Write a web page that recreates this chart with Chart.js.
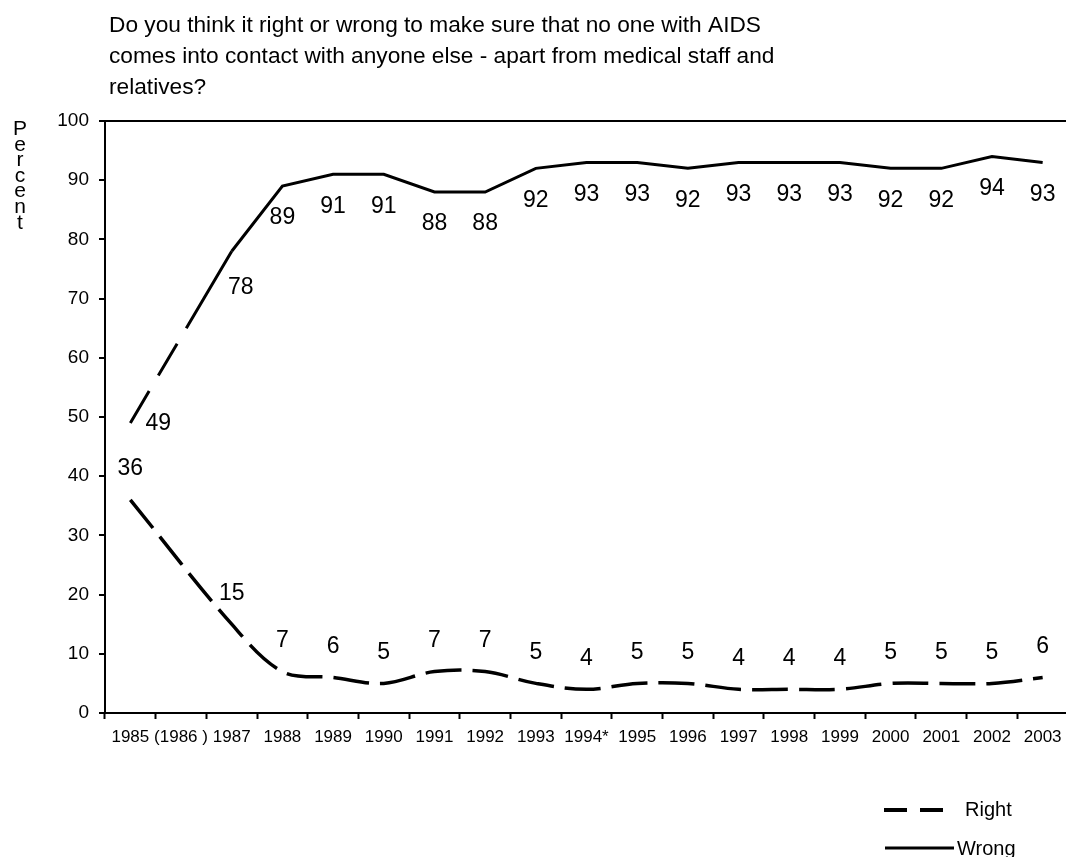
<!DOCTYPE html>
<html>
<head>
<meta charset="utf-8">
<script src="https://cdn.jsdelivr.net/npm/chart.js@4/dist/chart.umd.min.js"></script>
<style>
  html, body { margin: 0; padding: 0; background: #fff; overflow: hidden; }
  #wrap { position: relative; width: 1075px; height: 857px; }
</style>
</head>
<body>
<div id="wrap"><canvas id="c"></canvas></div>
<script>
// Survey years (1986 had no survey) and the share answering each way, in percent
const years = ['1985', '(1986 )', '1987', '1988', '1989', '1990', '1991', '1992', '1993',
  '1994*', '1995', '1996', '1997', '1998', '1999', '2000', '2001', '2002', '2003'];
const rightPct = [36, null, 15, 7, 6, 5, 7, 7, 5, 4, 5, 5, 4, 4, 4, 5, 5, 5, 6];
const wrongPct = [49, null, 78, 89, 91, 91, 88, 88, 92, 93, 93, 92, 93, 93, 93, 92, 92, 94, 93];
const seriesNames = ['Right', 'Wrong'];
const yTicks = [0, 10, 20, 30, 40, 50, 60, 70, 80, 90, 100];
const questionLines = [
  'Do you think it right or wrong to make sure that no one with AIDS',
  'comes into contact with anyone else - apart from medical staff and',
  'relatives?'
];
const yAxisTitle = 'Percent';

const FONT = '"Liberation Sans", Arial, Helvetica, sans-serif';

// Question text above the plot
const questionTitle = {
  id: 'questionTitle',
  afterDraw(chart) {
    const ctx = chart.ctx;
    ctx.save();
    ctx.fillStyle = '#000';
    ctx.font = '22.7px ' + FONT;
    ctx.textAlign = 'left';
    ctx.textBaseline = 'alphabetic';
    questionLines.forEach((line, i) => {
      ctx.fillText(line, chart.chartArea.left + 4, 32 + i * 30.8);
    });
    ctx.restore();
  }
};

// Stacked-letter title for the value axis
const stackedAxisTitle = {
  id: 'stackedAxisTitle',
  afterDraw(chart) {
    const ctx = chart.ctx;
    ctx.save();
    ctx.fillStyle = '#000';
    ctx.font = '21px ' + FONT;
    ctx.textAlign = 'center';
    ctx.textBaseline = 'alphabetic';
    [...yAxisTitle].forEach((ch, i) => {
      ctx.fillText(ch, 20, chart.chartArea.top + 14 + i * 15.6);
    });
    ctx.restore();
  }
};

// Value labels next to each point
const valueLabels = {
  id: 'valueLabels',
  afterDatasetsDraw(chart) {
    const ctx = chart.ctx;
    ctx.save();
    ctx.fillStyle = '#000';
    ctx.font = '23px ' + FONT;
    ctx.textAlign = 'center';
    ctx.textBaseline = 'middle';
    const shift = {
      above: [0, -31],
      below: [0, 32],
      right: [28, 1],
      belowRight: [9, 36]
    };
    chart.data.datasets.forEach((ds, di) => {
      const meta = chart.getDatasetMeta(di);
      const cfg = ds.valueLabel;
      meta.data.forEach((pt, i) => {
        const v = ds.data[i];
        if (v === null || v === undefined) return;
        const place = (cfg.overrides && cfg.overrides[i]) || cfg.place;
        const [dx, dy] = shift[place];
        ctx.fillText(String(v), pt.x + dx, pt.y + dy);
      });
    });
    ctx.restore();
  }
};

// Legend in the lower right corner
const cornerLegend = {
  id: 'cornerLegend',
  afterDraw(chart) {
    const ctx = chart.ctx;
    const ds = chart.data.datasets;
    ctx.save();
    ctx.strokeStyle = '#000';
    ctx.fillStyle = '#000';
    ctx.font = '20px ' + FONT;
    ctx.textAlign = 'left';
    ctx.textBaseline = 'middle';
    // Right: long-dash sample
    ctx.lineWidth = 4;
    ctx.lineCap = 'butt';
    ctx.setLineDash([23, 13]);
    ctx.beginPath();
    ctx.moveTo(884, 810);
    ctx.lineTo(943, 810);
    ctx.stroke();
    ctx.fillText(ds[0].label, 965, 810);
    // Wrong: solid sample
    ctx.setLineDash([]);
    ctx.lineWidth = 3;
    ctx.beginPath();
    ctx.moveTo(885, 848);
    ctx.lineTo(954, 848);
    ctx.stroke();
    ctx.fillText(ds[1].label, 957, 849);
    ctx.restore();
  }
};

const gapDash = ctx => (ctx.p0.skip || ctx.p1.skip) ? [37, 18, 37, 18, 400, 0] : undefined;

new Chart(document.getElementById('c'), {
  type: 'line',
  data: {
    labels: years,
    datasets: [
      {
        label: seriesNames[0],
        data: rightPct,
        borderColor: '#000',
        borderWidth: 3.5,
        borderDash: [36, 11],
        borderCapStyle: 'butt',
        tension: 0.35,
        spanGaps: true,
        pointRadius: 0,
        fill: false,
        valueLabel: { place: 'above' }
      },
      {
        label: seriesNames[1],
        data: wrongPct,
        borderColor: '#000',
        borderWidth: 3,
        borderCapStyle: 'butt',
        tension: 0,
        spanGaps: true,
        pointRadius: 0,
        fill: false,
        segment: { borderDash: gapDash },
        valueLabel: { place: 'below', overrides: { 0: 'right', 2: 'belowRight' } }
      }
    ]
  },
  options: {
    responsive: true,
    maintainAspectRatio: false,
    animation: false,
    devicePixelRatio: 1,
    layout: { padding: { top: 121, right: 7, bottom: 0, left: 0 } },
    plugins: {
      legend: { display: false },
      tooltip: { enabled: false },
      title: { display: false }
    },
    scales: {
      x: {
        type: 'category',
        offset: true,
        afterFit: s => { s.height = 144; },
        grid: {
          offset: true,
          color: 'transparent',
          tickColor: '#000',
          tickLength: 6,
          tickWidth: 2
        },
        border: { color: '#000', width: 2 },
        ticks: {
          color: '#000',
          font: { family: FONT, size: 17 },
          padding: 8,
          maxRotation: 0,
          autoSkip: false
        }
      },
      y: {
        min: 0,
        max: 100,
        afterFit: s => { s.width = 105; },
        afterBuildTicks: s => { s.ticks = yTicks.map(v => ({ value: v })); },
        grid: {
          color: c => (c.tick && c.tick.value === 100) ? '#000' : 'transparent',
          lineWidth: 2,
          tickColor: '#000',
          tickLength: 6,
          tickWidth: 2
        },
        border: { color: '#000', width: 2 },
        ticks: {
          color: '#000',
          font: { family: FONT, size: 19 },
          padding: 10
        }
      }
    }
  },
  plugins: [questionTitle, stackedAxisTitle, valueLabels, cornerLegend]
});
</script>
</body>
</html>
